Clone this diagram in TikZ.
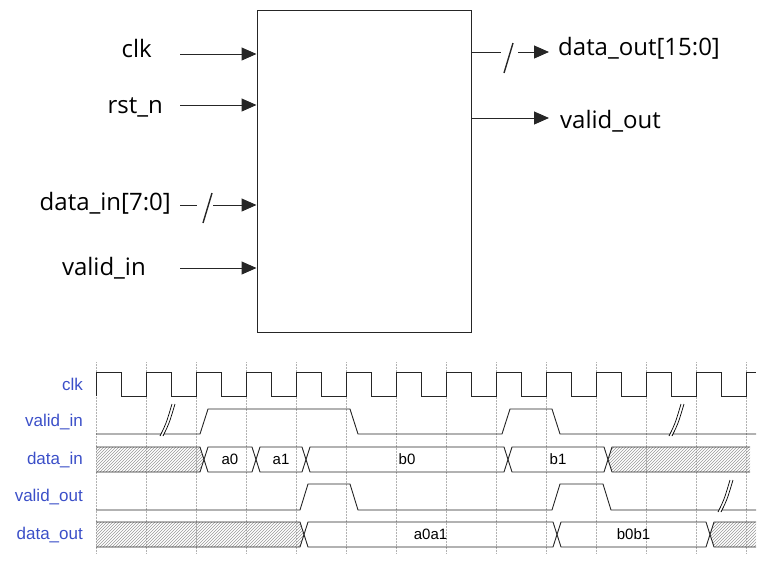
\documentclass[tikz,border=0pt]{standalone}
\usepackage{fontspec}
\setmainfont{Open Sans}
\newfontfamily\tfont{Liberation Sans}
\usetikzlibrary{arrows.meta,patterns}
\definecolor{lblue}{HTML}{3B4FC8}
\tikzset{
  sig/.style={line width=0.9pt,black!85},
  arr/.style={line width=1pt,black!85,-{Triangle[length=15pt,width=13pt]}},
  big/.style={font=\fontsize{24}{24}\selectfont,inner sep=0pt},
  tl/.style={font=\tfont\fontsize{17}{17}\selectfont,text=lblue,anchor=east,inner sep=0pt},
  val/.style={font=\tfont\fontsize{15}{15}\selectfont,inner sep=0pt},
  grid/.style={densely dotted,gray!60,line width=0.5pt},
  hatch/.style={pattern=north east lines,pattern color=gray!80},
}
\newcommand{\busseg}[5]{% x1 x2 top bot label
  \draw[sig] (#1,{(#3+#4)/2}) -- (#1+4,#3) -- (#2-4,#3) -- (#2,{(#3+#4)/2}) -- (#2-4,#4) -- (#1+4,#4) -- cycle;
  \node[val] at ({(#1+#2)/2},{(#3+#4)/2}) {#5};}
\newcommand{\brk}[2]{% x, ylow
  \fill[white] (#1-6,#2+2) -- (#1+6,#2-30) -- (#1+9,#2-30) -- (#1-3,#2+2) -- cycle;
  \draw[line width=0.7pt] (#1-6,#2+2) .. controls (#1,#2-10) .. (#1+6,#2-30);
  \draw[line width=0.7pt] (#1-3,#2+2) .. controls (#1+3,#2-10) .. (#1+9,#2-30);}
\begin{document}
\begin{tikzpicture}[x=1pt,y=-1pt]
\useasboundingbox (0,0) rectangle (763,563);
% block
\node[draw,line width=1pt,black!85,minimum width=214pt,minimum height=322pt,inner sep=0pt] (blk) at (364,171) {};
\node[big,anchor=east] (lclk) at (152,48) {clk};
\node[big,anchor=east] (lrst) at (163,107) {rst\_n};
\node[big,anchor=east] (ldin) at (171,203) {data\_in[7:0]};
\node[big,anchor=east] (lvin) at (146,268) {valid\_in};
\node[big,anchor=west] (ldout) at (558,48) {data\_out[15:0]};
\node[big,anchor=west] (lvout) at (560,121) {valid\_out};
\coordinate (c1) at (180,54); \coordinate (c2) at (180,105);
\coordinate (c4) at (180,268);
\draw[arr] (c1) -- (c1 -| blk.west);
\draw[arr] (c2) -- (c2 -| blk.west);
\draw[arr] (c4) -- (c4 -| blk.west);
\coordinate (d1) at (180,205); \coordinate (d2) at (197,205); \coordinate (d3) at (213,205);
\draw[line width=1pt,black!85] (d1) -- (d2);
\draw[line width=1.4pt,black!85] (203,223) -- (212,193);
\draw[arr] (d3) -- (d3 -| blk.west);
\coordinate (o1) at (blk.east |- 0,52); \coordinate (o2) at (501,52); \coordinate (o3) at (518,52); \coordinate (o4) at (549,52);
\draw[line width=1pt,black!85] (o1) -- (o2);
\draw[line width=1.4pt,black!85] (504,73) -- (513,43);
\draw[arr] (o3) -- (o4);
\coordinate (v1) at (blk.east |- 0,118); \coordinate (v2) at (549,118);
\draw[arr] (v1) -- (v2);
% timing grid
\foreach \k in {0,...,13} \draw[grid] (96+50*\k,362) -- (96+50*\k,553);
\node[tl] (tclk) at (83,384) {clk};
\node[tl] (tvin) at (83,422) {valid\_in};
\node[tl] (tdin) at (83,460) {data\_in};
\node[tl] (tvout) at (83,497) {valid\_out};
\node[tl] (tdout) at (83,535) {data\_out};
% clk
\draw[sig] (96,396) -- (96,372)
  \foreach \k in {0,...,12} { -- (121+50*\k,372) -- (121+50*\k,396) -- (146+50*\k,396) -- (146+50*\k,372) } -- (756,372);
% valid_in
\draw[sig] (96,434) -- (200,434) -- (208,409) -- (350,409) -- (358,434) -- (502,434) -- (510,409) -- (552,409) -- (560,434) -- (756,434);
\brk{166}{434}
\brk{675}{434}
% data_in
\fill[hatch] (96,447) -- (200,447) -- (204,459.5) -- (200,472) -- (96,472) -- cycle;
\draw[sig] (96,447) -- (200,447) -- (204,459.5) -- (200,472) -- (96,472);
\busseg{204}{256}{447}{472}{a0}
\busseg{256}{306}{447}{472}{a1}
\busseg{306}{508}{447}{472}{b0}
\busseg{508}{608}{447}{472}{b1}
\fill[hatch] (612,447) -- (750,447) -- (750,472) -- (612,472) -- (608,459.5) -- cycle;
\draw[sig] (750,447) -- (612,447) -- (608,459.5) -- (612,472) -- (750,472);
% valid_out
\draw[sig] (96,510) -- (300,510) -- (308,484) -- (350,484) -- (358,510) -- (552,510) -- (560,484) -- (603,484) -- (611,510) -- (756,510);
\brk{724}{510}
% data_out
\fill[hatch] (96,522) -- (300,522) -- (304,534.5) -- (300,547) -- (96,547) -- cycle;
\draw[sig] (96,522) -- (300,522) -- (304,534.5) -- (300,547) -- (96,547);
\busseg{304}{557}{522}{547}{a0a1}
\busseg{557}{710}{522}{547}{b0b1}
\fill[hatch] (714,522) -- (756,522) -- (756,547) -- (714,547) -- (710,534.5) -- cycle;
\draw[sig] (756,522) -- (714,522) -- (710,534.5) -- (714,547) -- (756,547);
\end{tikzpicture}
\end{document}
